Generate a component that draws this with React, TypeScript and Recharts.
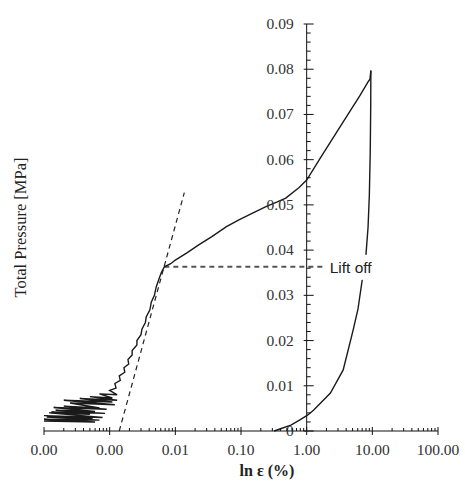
import React from "react";
import {
  ComposedChart,
  Line,
  Scatter,
  XAxis,
  YAxis,
  ReferenceLine,
} from "recharts";

// loading branch: noisy start, linear rise, lift off, then on to the peak
const loadStrain = [
  0.0001, 0.0006, 0.0001, 0.0007, 0.00011, 0.00055, 0.0001, 0.00078, 0.00012, 0.0005,
  0.00013, 0.00085, 0.00015, 0.0006, 0.00014, 0.0009, 0.0002, 0.0007, 0.00025, 0.0012,
  0.0002, 0.0011, 0.00035, 0.0013, 0.0005, 0.0011, 0.0007, 0.0013, 0.001, 0.00125,
  0.0012, 0.00145, 0.0014, 0.0017, 0.00165, 0.00195, 0.0019, 0.0022, 0.0022, 0.0026,
  0.0026, 0.003, 0.0031, 0.0035, 0.0036, 0.0041, 0.0043, 0.0048, 0.0051, 0.0056,
  0.0061, 0.0068,
  0.0085, 0.01, 0.015, 0.023, 0.036, 0.06, 0.093, 0.15, 0.24, 0.35, 0.48, 0.76, 1.0,
  1.62, 3.24, 6.5, 8.6, 9.2, 9.5,
];
const loadPressure = [
  0.0022, 0.002, 0.0026, 0.0024, 0.0031, 0.0028, 0.0034, 0.003, 0.004, 0.0037,
  0.0042, 0.0039, 0.0046, 0.0043, 0.0052, 0.0048, 0.0055, 0.0051, 0.0062, 0.0058,
  0.0068, 0.0064, 0.0072, 0.0068, 0.0076, 0.0073, 0.0082, 0.008, 0.009, 0.0095,
  0.0105, 0.0112, 0.0122, 0.013, 0.014, 0.0148, 0.0158, 0.0168, 0.0178, 0.019,
  0.02, 0.0213, 0.0225, 0.024, 0.0252, 0.0268, 0.0285, 0.03, 0.0318, 0.0335,
  0.035, 0.0363,
  0.037, 0.0378, 0.0394, 0.0412, 0.043, 0.0452, 0.0467, 0.0482, 0.0496, 0.0506, 0.0515, 0.0538, 0.0555,
  0.0604, 0.0673, 0.0742, 0.0772, 0.0778, 0.0797,
];

// unloading branch
const unloadStrain = [
  9.5, 9.45, 9.3, 9.0, 8.6, 8.0, 6.95, 6.05, 5.1, 3.6, 2.3, 1.27, 1.03, 0.8, 0.575, 0.4, 0.32,
];
const unloadPressure = [
  0.0797, 0.072, 0.062, 0.052, 0.045, 0.039, 0.033, 0.027, 0.0223, 0.0135, 0.0084, 0.0046,
  0.0035, 0.0025, 0.0013, 0.0005, 0,
];

// tangent to the linear part
const tangentStrain = [0.0014, 0.0137];
const tangentPressure = [0, 0.0527];

const liftOffPressure = 0.0363;
const liftOffStrain = [0.0068, 1.95];

const majorTicks = [0.0001, 0.001, 0.01, 0.1, 1, 10, 100];
const minorFactors = [2, 3, 4, 5, 6, 7, 8, 9];
const yMajorTicks = [0, 0.01, 0.02, 0.03, 0.04, 0.05, 0.06, 0.07, 0.08, 0.09];
const yMinorTicks = [
  0.002, 0.004, 0.006, 0.008, 0.012, 0.014, 0.016, 0.018, 0.022, 0.024, 0.026, 0.028,
  0.032, 0.034, 0.036, 0.038, 0.042, 0.044, 0.046, 0.048, 0.052, 0.054, 0.056, 0.058,
  0.062, 0.064, 0.066, 0.068, 0.072, 0.074, 0.076, 0.078, 0.082, 0.084, 0.086, 0.088,
];

const xTicks = [
  ...majorTicks,
  ...majorTicks.slice(0, -1).flatMap((d) => minorFactors.map((f) => d * f)),
];

const toPoints = (xs: number[], ys: number[]) => xs.map((x, i) => ({ x, y: ys[i] }));

const loadData = toPoints(loadStrain, loadPressure);
const unloadData = toPoints(unloadStrain, unloadPressure);
const tangentData = toPoints(tangentStrain, tangentPressure);
const yMajorData = yMajorTicks.map((y) => ({ x: 1, y }));
const yMinorData = yMinorTicks.map((y) => ({ x: 1, y }));
const liftOffLabelData = [{ x: liftOffStrain[1], y: liftOffPressure }];

const serif = "Liberation Serif";
const numStyle = { fontFamily: serif, fontSize: 15.5, fill: "#333" };

const XTick = (props: any) => {
  const { x, y, payload } = props;
  const major = majorTicks.some((t) => Math.abs(t - payload.value) < t * 1e-6);
  return (
    <g>
      <line
        x1={x}
        x2={x}
        y1={y - (major ? 4 : 3)}
        y2={y + (major ? 4 : 0)}
        stroke="#111"
        strokeWidth={1}
      />
      {major && (
        <text x={x} y={y + 24} textAnchor="middle" style={numStyle}>
          {payload.value.toFixed(2)}
        </text>
      )}
    </g>
  );
};

const YMajorTick = (props: any) => {
  const { cx, cy, payload } = props;
  return (
    <g>
      <line x1={cx - 3} x2={cx + 7} y1={cy} y2={cy} stroke="#111" strokeWidth={1} />
      <text x={cx - 13} y={cy + 5} textAnchor="end" style={numStyle}>
        {payload.y === 0 ? "0" : payload.y.toFixed(2)}
      </text>
    </g>
  );
};

const YMinorTick = (props: any) => {
  const { cx, cy } = props;
  return <line x1={cx} x2={cx + 4} y1={cy} y2={cy} stroke="#111" strokeWidth={1} />;
};

const LiftOffLabel = (props: any) => {
  const { cx, cy } = props;
  return (
    <g>
      <rect x={cx + 1} y={cy - 12} width={62} height={25} fill="#fff" />
      <text
        x={cx + 4}
        y={cy + 6}
        style={{ fontFamily: "Liberation Sans", fontSize: 15.5, fill: "#222" }}
      >
        Lift off
      </text>
    </g>
  );
};

const YTitle = (props: any) => {
  const { viewBox } = props;
  const cx = viewBox.x + 20;
  const cy = viewBox.y + viewBox.height / 2;
  return (
    <text
      x={cx}
      y={cy}
      transform={`rotate(-90, ${cx}, ${cy})`}
      textAnchor="middle"
      dominantBaseline="central"
      style={{ fontFamily: serif, fontSize: 16.5, fill: "#222" }}
    >
      Total Pressure [MPa]
    </text>
  );
};

export default function App() {
  return (
    <div style={{ position: "absolute", left: 0, top: 0, background: "#fff" }}>
      <ComposedChart
        width={465}
        height={481}
        margin={{ top: 24, right: 27, left: 0, bottom: 0 }}
      >
        <XAxis
          dataKey="x"
          type="number"
          scale="log"
          domain={[0.0001, 100]}
          ticks={xTicks}
          interval={0}
          tickSize={0}
          tickMargin={0}
          tickLine={false}
          tick={<XTick />}
          height={50}
          stroke="#111"
          label={{
            value: "ln ε (%)",
            position: "insideBottom",
            offset: 5,
            dx: 26,
            style: { fontFamily: serif, fontSize: 16, fontWeight: "bold", fill: "#222" },
          }}
        />
        <YAxis
          dataKey="y"
          type="number"
          domain={[0, 0.09]}
          width={44}
          axisLine={false}
          tickLine={false}
          tick={false}
          label={<YTitle />}
        />
        <ReferenceLine x={1} stroke="#111" strokeWidth={1} />
        <ReferenceLine
          segment={[
            { x: liftOffStrain[0], y: liftOffPressure },
            { x: liftOffStrain[1], y: liftOffPressure },
          ]}
          stroke="#555"
          strokeWidth={2}
          strokeDasharray="5 4"
        />
        <Line
          data={tangentData}
          dataKey="y"
          stroke="#222"
          strokeWidth={1.2}
          strokeDasharray="5 4"
          dot={false}
          isAnimationActive={false}
        />
        <Line
          data={loadData}
          dataKey="y"
          stroke="#1a1a1a"
          strokeWidth={1.4}
          dot={false}
          isAnimationActive={false}
        />
        <Line
          data={unloadData}
          dataKey="y"
          stroke="#1a1a1a"
          strokeWidth={1.4}
          dot={false}
          isAnimationActive={false}
        />
        <Scatter data={yMinorData} dataKey="y" shape={<YMinorTick />} isAnimationActive={false} />
        <Scatter data={yMajorData} dataKey="y" shape={<YMajorTick />} isAnimationActive={false} />
        <Scatter
          data={liftOffLabelData}
          dataKey="y"
          shape={<LiftOffLabel />}
          isAnimationActive={false}
        />
      </ComposedChart>
    </div>
  );
}
